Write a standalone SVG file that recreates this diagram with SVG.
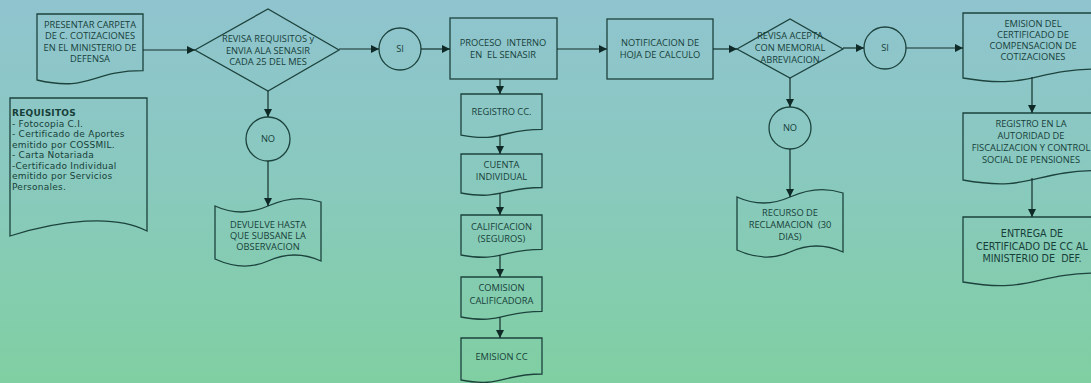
<svg xmlns="http://www.w3.org/2000/svg" width="1091" height="383" viewBox="0 0 1091 383">
<defs>
<linearGradient id="bg" x1="0" y1="0" x2="0" y2="1">
<stop offset="0" stop-color="#90c4cf"/>
<stop offset="0.45" stop-color="#89c9bf"/>
<stop offset="1" stop-color="#80cfa2"/>
</linearGradient>
<marker id="ah" markerUnits="userSpaceOnUse" markerWidth="9" markerHeight="9" refX="8" refY="4" orient="auto">
<path d="M0,0 L8,4 L0,8 Z" fill="#0f2a26"/>
</marker>
<style>
.s{fill:none;stroke:#1d433d;stroke-width:1.3}
.c{fill:none;stroke:#142f2b;stroke-width:1.2;marker-end:url(#ah)}
text{font-family:"Open Sans","Liberation Sans",sans-serif;font-size:9.3px;fill:#173f39;text-anchor:middle}
.req{font-family:"DejaVu Sans","Open Sans",sans-serif;font-size:9px;letter-spacing:0.25px;text-anchor:start}
.big{font-family:"DejaVu Sans","Open Sans",sans-serif;font-size:9.6px}
</style>
</defs>
<rect width="1091" height="383" fill="url(#bg)"/>

<g id="n-presentar">
<path class="s" d="M37,14 H143 V70.7 C90,70.7 90,92.3 37,80 Z"/>
<text x="90" y="27.5"><tspan x="90">PRESENTAR CARPETA</tspan><tspan x="90" dy="11.5">DE C. COTIZACIONES</tspan><tspan x="90" dy="11.5">EN EL MINISTERIO DE</tspan><tspan x="90" dy="11.5">DEFENSA</tspan></text>
</g>

<g id="n-requisitos">
<path class="s" d="M10,98 H147 V231 C115,214 60,220 10,236 Z"/>
<text class="req" x="12" y="116"><tspan x="12" font-weight="bold">REQUISITOS</tspan><tspan x="12" dy="10.5">- Fotocopia C.I.</tspan><tspan x="12" dy="10.5">- Certificado de Aportes</tspan><tspan x="12" dy="10.5">emitido por COSSMIL.</tspan><tspan x="12" dy="10.5">- Carta Notariada</tspan><tspan x="12" dy="10.5">-Certificado Individual</tspan><tspan x="12" dy="10.5">emitido por Servicios</tspan><tspan x="12" dy="10.5">Personales.</tspan></text>
</g>

<g id="n-revisa1">
<polygon class="s" points="195,50 268,9 339,50 268,91"/>
<text x="268" y="42"><tspan x="268">REVISA REQUISITOS y</tspan><tspan x="268" dy="11.5">ENVIA ALA SENASIR</tspan><tspan x="268" dy="11.5">CADA 25 DEL MES</tspan></text>
</g>

<g id="n-si1">
<circle class="s" cx="400" cy="49" r="21"/>
<text x="400" y="52">SI</text>
</g>

<g id="n-no1">
<circle class="s" cx="268" cy="139" r="22"/>
<text x="268" y="142">NO</text>
</g>

<g id="n-devuelve">
<path class="s" d="M215,206 C232.7,214 250.3,214 268,206 S303.3,196 321,202 V261 C303.3,253 285.7,253 268,261 S232.7,267 215,259 Z"/>
<text x="268" y="228"><tspan x="268">DEVUELVE HASTA</tspan><tspan x="268" dy="11">QUE SUBSANE LA</tspan><tspan x="268" dy="11">OBSERVACION</tspan></text>
</g>

<g id="n-proceso">
<rect class="s" x="450" y="18" width="107" height="61"/>
<text x="503" y="46" xml:space="preserve"><tspan x="503">PROCESO  INTERNO</tspan><tspan x="503" dy="11.5">EN  EL SENASIR</tspan></text>
</g>

<g id="n-registrocc">
<path class="s" d="M461,94 H542 V129.3 C501.5,129.3 501.5,142.7 461,135.1 Z"/>
<text x="501.5" y="115">REGISTRO CC.</text>
</g>

<g id="n-cuenta">
<path class="s" d="M461,154 H542 V187.5 C501.5,187.5 501.5,200.3 461,193 Z"/>
<text x="501.5" y="168"><tspan x="501.5">CUENTA</tspan><tspan x="501.5" dy="12">INDIVIDUAL</tspan></text>
</g>

<g id="n-calificacion">
<path class="s" d="M461,215 H542 V249.3 C501.5,249.3 501.5,262.4 461,255 Z"/>
<text x="501.5" y="230"><tspan x="501.5">CALIFICACION</tspan><tspan x="501.5" dy="11.5">(SEGUROS)</tspan></text>
</g>

<g id="n-comision">
<path class="s" d="M461,277 H542 V311.3 C501.5,311.3 501.5,324.4 461,317 Z"/>
<text x="501.5" y="291"><tspan x="501.5">COMISION</tspan><tspan x="501.5" dy="12.5">CALIFICADORA</tspan></text>
</g>

<g id="n-emisioncc">
<path class="s" d="M461,338 H542 V374 C501.5,374 501.5,387.8 461,380 Z"/>
<text x="501.5" y="360">EMISION CC</text>
</g>

<g id="n-notificacion">
<rect class="s" x="607" y="19" width="106" height="60"/>
<text x="660" y="46"><tspan x="660">NOTIFICACION DE</tspan><tspan x="660" dy="11.5">HOJA DE CALCULO</tspan></text>
</g>

<g id="n-revisa2">
<polygon class="s" points="737,49 790,19 843,49 790,78"/>
<text x="790" y="39"><tspan x="790">REVISA ACEPTA</tspan><tspan x="790" dy="12">CON MEMORIAL</tspan><tspan x="790" dy="12">ABREVIACION</tspan></text>
</g>

<g id="n-si2">
<circle class="s" cx="885" cy="48" r="21"/>
<text x="885" y="51">SI</text>
</g>

<g id="n-no2">
<circle class="s" cx="790" cy="128" r="21"/>
<text x="790" y="131">NO</text>
</g>

<g id="n-recurso">
<path class="s" d="M737,197 C754.7,205 772.3,205 790,197 S825.3,187 843,193 V252 C825.3,244 807.7,244 790,252 S754.7,258 737,250 Z"/>
<text x="790" y="216" xml:space="preserve"><tspan x="790">RECURSO DE</tspan><tspan x="790" dy="12">RECLAMACION  (30</tspan><tspan x="790" dy="12">DIAS)</tspan></text>
</g>

<g id="n-emision">
<path class="s" d="M963,13 H1101 V69 C1032,69 1032,90 963,78 Z"/>
<text x="1033" y="27"><tspan x="1033">EMISION DEL</tspan><tspan x="1033" dy="11">CERTIFICADO DE</tspan><tspan x="1033" dy="11">COMPENSACION DE</tspan><tspan x="1033" dy="11">COTIZACIONES</tspan></text>
</g>

<g id="n-registro">
<path class="s" d="M963,113 H1101 V170.5 C1032,170.5 1032,192.4 963,180 Z"/>
<text x="1031" y="127"><tspan x="1031">REGISTRO EN LA</tspan><tspan x="1031" dy="12">AUTORIDAD DE</tspan><tspan x="1031" dy="12">FISCALIZACION Y CONTROL</tspan><tspan x="1031" dy="12">SOCIAL DE PENSIONES</tspan></text>
</g>

<g id="n-entrega">
<path class="s" d="M963,217 H1101 V273 C1032,273 1032,294 963,282 Z"/>
<text class="big" x="1032" y="237" xml:space="preserve"><tspan x="1032">ENTREGA DE</tspan><tspan x="1032" dy="12.5">CERTIFICADO DE CC AL</tspan><tspan x="1032" dy="12.5">MINISTERIO DE  DEF.</tspan></text>
</g>

<g id="connectors">
<line class="c" x1="143" y1="50" x2="195" y2="50"/>
<line class="c" x1="339" y1="49" x2="379" y2="49"/>
<line class="c" x1="421" y1="49" x2="450" y2="49"/>
<line class="c" x1="268" y1="91" x2="268" y2="117"/>
<line class="c" x1="268" y1="161" x2="268" y2="206"/>
<line class="c" x1="500" y1="79" x2="500" y2="94"/>
<line class="c" x1="500" y1="135" x2="500" y2="154"/>
<line class="c" x1="500" y1="193" x2="500" y2="215"/>
<line class="c" x1="500" y1="255" x2="500" y2="277"/>
<line class="c" x1="500" y1="317" x2="500" y2="338"/>
<line class="c" x1="557" y1="49" x2="607" y2="49"/>
<line class="c" x1="713" y1="49" x2="737" y2="49"/>
<line class="c" x1="843" y1="48" x2="864" y2="48"/>
<line class="c" x1="906" y1="48" x2="963" y2="48"/>
<line class="c" x1="790" y1="78" x2="790" y2="107"/>
<line class="c" x1="790" y1="149" x2="790" y2="197"/>
<line class="c" x1="1032" y1="77" x2="1032" y2="113"/>
<line class="c" x1="1032" y1="178" x2="1032" y2="217"/>
</g>
</svg>
